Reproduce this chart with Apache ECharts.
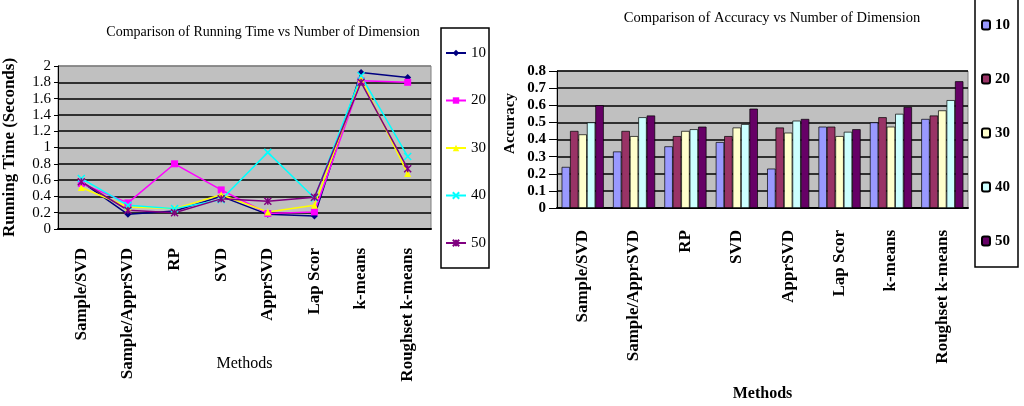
<!DOCTYPE html>
<html>
<head>
<meta charset="utf-8">
<script src="https://cdn.jsdelivr.net/npm/echarts@6/dist/echarts.min.js"></script>
<style>
  html, body { margin: 0; padding: 0; background: #fff; }
  #left { position: absolute; left: 0; top: 0; width: 495px; height: 406px; }
  #right { position: absolute; left: 495px; top: 0; width: 529px; height: 406px; }
</style>
</head>
<body>
<div id="left"></div>
<div id="right"></div>
<script>
var methods = ['Sample/SVD', 'Sample/ApprSVD', 'RP', 'SVD', 'ApprSVD', 'Lap Scor', 'k-means', 'Roughset k-means'];
var dims = ['10', '20', '30', '40', '50'];

// running time (seconds), one array per number of dimensions
var time10 = [0.58, 0.18, 0.22, 0.40, 0.18, 0.16, 1.92, 1.86];
var time20 = [0.56, 0.32, 0.80, 0.48, 0.19, 0.21, 1.82, 1.80];
var time30 = [0.51, 0.27, 0.25, 0.42, 0.21, 0.29, 1.84, 0.68];
var time40 = [0.62, 0.29, 0.25, 0.36, 0.94, 0.38, 1.88, 0.89];
var time50 = [0.58, 0.23, 0.20, 0.37, 0.34, 0.39, 1.80, 0.74];

// accuracy, one array per number of dimensions
var acc10 = [0.24, 0.33, 0.36, 0.385, 0.23, 0.475, 0.50, 0.52];
var acc20 = [0.45, 0.45, 0.42, 0.42, 0.47, 0.475, 0.53, 0.54];
var acc30 = [0.43, 0.42, 0.45, 0.47, 0.44, 0.42, 0.475, 0.57];
var acc40 = [0.50, 0.53, 0.46, 0.49, 0.51, 0.445, 0.55, 0.63];
var acc50 = [0.60, 0.54, 0.475, 0.58, 0.52, 0.46, 0.59, 0.74];

var timeData = [time10, time20, time30, time40, time50];
var accData = [acc10, acc20, acc30, acc40, acc50];

var lineColors = ['#000080', '#FF00FF', '#FFFF00', '#00FFFF', '#800080'];
var barColors = ['#9999FF', '#993366', '#FFFFCC', '#CCFFFF', '#660066'];
var lineSymbols = [
    'diamond',
    'rect',
    'triangle',
    'path://M0,0L10,10M10,0L0,10',
    'path://M0,0L10,10M10,0L0,10M5,0L5,10'
];
var serif = 'Liberation Serif';

var leftChart = echarts.init(document.getElementById('left'));
leftChart.setOption({
    animation: false,
    title: {
        text: 'Comparison of Running Time vs Number of Dimension',
        left: 258, top: 20, textAlign: 'center',
        textStyle: { fontFamily: serif, fontSize: 14, fontWeight: 'normal', color: '#000' }
    },
    legend: {
        orient: 'vertical',
        left: 441, top: 28,
        padding: [17, 3, 17, 4],
        itemGap: 31.5,
        itemWidth: 20, itemHeight: 8,
        borderColor: '#000', borderWidth: 1.5,
        data: dims,
        textStyle: { fontFamily: serif, fontSize: 15, color: '#000', lineHeight: 16 }
    },
    grid: {
        left: 58, right: 64, top: 66, bottom: 177,
        outerBoundsMode: 'none',
        show: true, backgroundColor: '#C0C0C0', borderColor: '#808080', borderWidth: 1
    },
    xAxis: {
        type: 'category',
        data: methods,
        name: 'Methods',
        nameLocation: 'middle',
        nameGap: 127,
        nameMoveOverlap: false,
        nameTextStyle: { fontFamily: serif, fontSize: 16, color: '#000' },
        axisLine: { lineStyle: { color: '#000', width: 2 } },
        axisTick: { length: 5, lineStyle: { color: '#000', width: 1 } },
        axisLabel: {
            interval: 0, rotate: 90, margin: 19,
            fontFamily: serif, fontSize: 17, fontWeight: 'bold', color: '#000'
        }
    },
    yAxis: {
        type: 'value',
        min: 0, max: 2, interval: 0.2,
        name: 'Running Time (Seconds)',
        nameLocation: 'middle',
        nameGap: 40,
        nameMoveOverlap: false,
        nameTextStyle: { fontFamily: serif, fontSize: 17, fontWeight: 'bold', color: '#000' },
        axisLine: { show: true, lineStyle: { color: '#000', width: 1 } },
        axisTick: { show: true, length: 4, lineStyle: { color: '#000' } },
        axisLabel: { margin: 7, fontFamily: serif, fontSize: 15, color: '#000' },
        splitLine: {
            lineStyle: {
                width: 1.5,
                color: ['#000', '#000', '#000', '#000', '#000', '#000', '#000', '#000', '#000', '#000', '#808080']
            }
        }
    },
    series: dims.map(function (d, i) {
        return {
            name: d,
            type: 'line',
            data: timeData[i],
            symbol: lineSymbols[i],
            symbolSize: 7,
            lineStyle: { color: lineColors[i], width: 1.5 },
            itemStyle: { color: lineColors[i], borderColor: lineColors[i], borderWidth: i >= 3 ? 1.5 : 0 }
        };
    })
});

var rightChart = echarts.init(document.getElementById('right'));
rightChart.setOption({
    animation: false,
    title: {
        text: 'Comparison of Accuracy vs Number of Dimension',
        left: 272, top: 6, textAlign: 'center',
        textStyle: { fontFamily: serif, fontSize: 14.5, fontWeight: 'normal', color: '#000' }
    },
    legend: {
        orient: 'vertical',
        left: 480, top: -3,
        padding: [20, 8, 18, 6],
        itemGap: 38,
        itemWidth: 8, itemHeight: 9,
        borderColor: '#000', borderWidth: 1.5,
        data: dims,
        textStyle: { fontFamily: serif, fontSize: 15, fontWeight: 'bold', color: '#000', lineHeight: 16 }
    },
    grid: {
        left: 62, right: 56, top: 71, bottom: 198,
        outerBoundsMode: 'none',
        show: true, backgroundColor: '#C0C0C0', borderColor: '#808080', borderWidth: 1
    },
    xAxis: {
        type: 'category',
        data: methods,
        name: 'Methods',
        nameLocation: 'middle',
        nameGap: 178,
        nameMoveOverlap: false,
        nameTextStyle: { fontFamily: serif, fontSize: 16, fontWeight: 'bold', color: '#000' },
        axisLine: { lineStyle: { color: '#000', width: 2 } },
        axisTick: { length: 5, lineStyle: { color: '#000', width: 1 } },
        axisLabel: {
            interval: 0, rotate: 90, margin: 22,
            fontFamily: serif, fontSize: 17, fontWeight: 'bold', color: '#000'
        }
    },
    yAxis: {
        type: 'value',
        min: 0, max: 0.8, interval: 0.1,
        name: 'Accuracy',
        nameLocation: 'middle',
        nameGap: 39,
        nameMoveOverlap: false,
        nameTextStyle: { fontFamily: serif, fontSize: 15, fontWeight: 'bold', color: '#000', padding: [0, 0, 0, 32] },
        axisLine: { show: true, lineStyle: { color: '#000', width: 1 } },
        axisTick: { show: true, length: 8, lineStyle: { color: '#000' } },
        axisLabel: { margin: 11, fontFamily: serif, fontSize: 15, fontWeight: 'bold', color: '#000' },
        splitLine: { lineStyle: { color: '#000', width: 1.5 } }
    },
    series: dims.map(function (d, i) {
        return {
            name: d,
            type: 'bar',
            data: accData[i],
            barGap: '0%',
            barCategoryGap: '18%',
            itemStyle: { color: barColors[i], borderColor: '#000', borderWidth: 0.7 }
        };
    })
});
</script>
</body>
</html>
